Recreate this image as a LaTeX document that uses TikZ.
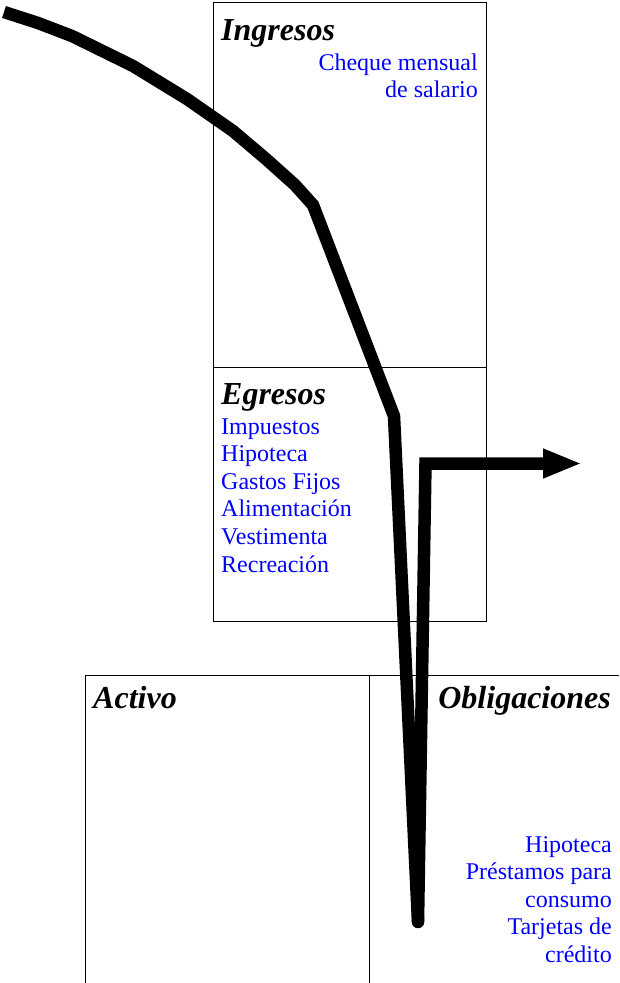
\documentclass[tikz,border=0pt]{standalone}
\usepackage{fontspec}
\setmainfont{Liberation Serif}
\usetikzlibrary{arrows.meta}
\definecolor{listblue}{RGB}{0,0,255}
\tikzset{
  boxline/.style={draw=black, line width=0.9pt},
  flow/.style={draw=black, line width=12.5pt, line join=miter},
  head/.style={inner sep=0pt, font=\fontsize{32}{36}\selectfont\bfseries\itshape},
  item/.style={inner sep=0pt, text=listblue, font=\fontsize{24}{27.6}\selectfont},
}
\begin{document}
\begin{tikzpicture}[x=1pt,y=-1pt]
\useasboundingbox (0,0) rectangle (619,983);
% boxes
\draw[boxline] (213,2) rectangle (486.5,621);
\draw[boxline] (213,367) -- (486.5,367);
\draw[boxline] (85,983) -- (85,675) -- (619,675);
\draw[boxline] (369,675) -- (369,983);
% headings
\node[head, anchor=base west] (ing) at (221,40) {Ingresos};
\node[head, anchor=base west] (egr) at (221,404) {Egresos};
\node[head, anchor=base west] (act) at (93,708) {Activo};
\node[head, anchor=base east] (obl) at (611,708) {Obligaciones};
% income items
\node[item, anchor=base east] (ch1) at (478,70) {Cheque mensual};
\node[item, anchor=base east] (ch2) at (478,97) {de salario};
% expense items
\node[item, anchor=base west] (e1) at (221,434) {Impuestos};
\node[item, anchor=base west] (e2) at (221,461.6) {Hipoteca};
\node[item, anchor=base west] (e3) at (221,489.2) {Gastos Fijos};
\node[item, anchor=base west] (e4) at (221,516.8) {Alimentación};
\node[item, anchor=base west] (e5) at (221,544.4) {Vestimenta};
\node[item, anchor=base west] (e6) at (221,572) {Recreación};
% liabilities items
\node[item, anchor=base east] (o1) at (612,852) {Hipoteca};
\node[item, anchor=base east] (o2) at (612,879.5) {Préstamos para};
\node[item, anchor=base east] (o3) at (612,907) {consumo};
\node[item, anchor=base east] (o4) at (612,934.5) {Tarjetas de};
\node[item, anchor=base east] (o5) at (612,962) {crédito};
% flow path coordinates
\coordinate (s0) at (4,12);
\coordinate (s1) at (38,23);
\coordinate (s2) at (72,36);
\coordinate (s3) at (133,66);
\coordinate (s4) at (187,99);
\coordinate (s5) at (233,131);
\coordinate (s6) at (266,159);
\coordinate (s7) at (295,185);
\coordinate (s8) at (313,205);
\coordinate (bend) at (394,416);
\coordinate (tip) at (418,922);
\coordinate (corner) at (425.5,463.5);
\coordinate (out) at (582,463.5);
\draw[flow] (s0) -- (s1) -- (s2) -- (s3) -- (s4) -- (s5) -- (s6) -- (s7) -- (s8) -- (bend) -- (tip);
\draw[flow, line cap=round, -{Triangle[length=39pt,width=27pt]}] (tip) -- (corner) -- (out);
\end{tikzpicture}
\end{document}
